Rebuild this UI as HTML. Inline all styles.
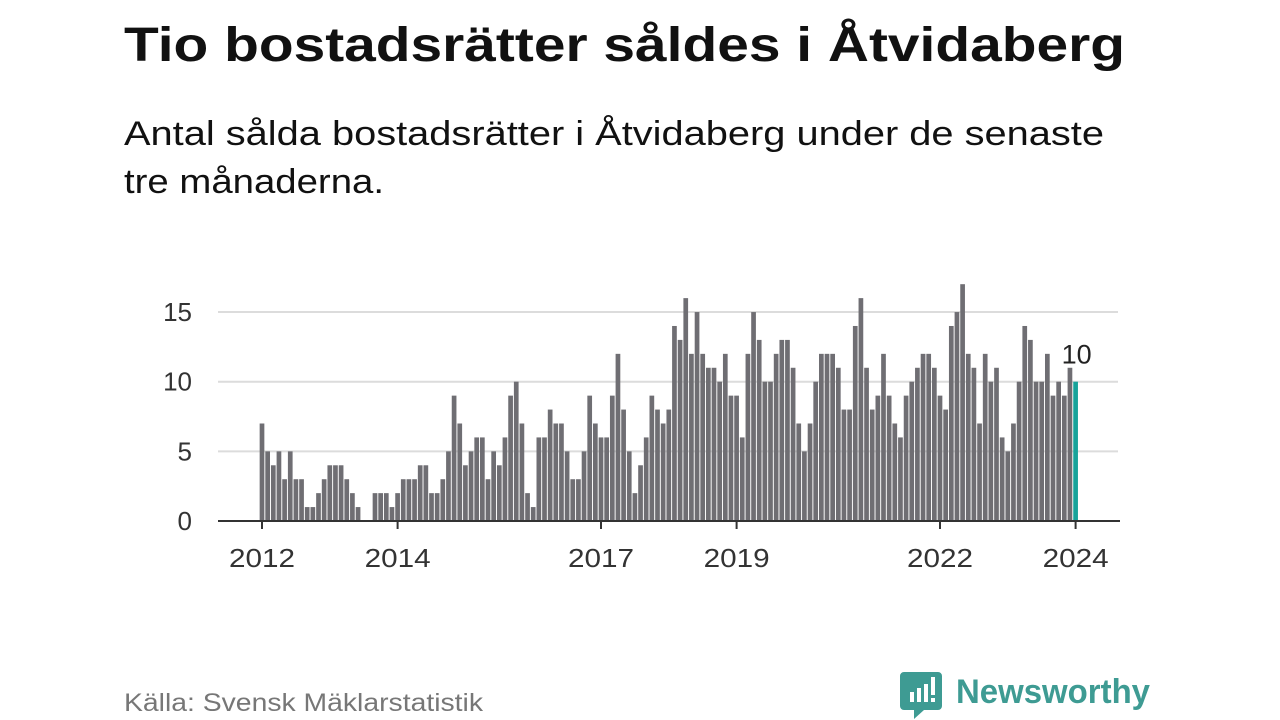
<!DOCTYPE html>
<html><head><meta charset="utf-8"><style>
body{margin:0;background:#fff;}
svg{display:block;font-family:"Liberation Sans",sans-serif;}
</style></head><body>
<svg id="chart" width="1280" height="720" viewBox="0 0 1280 720">
<text x="124" y="61" font-size="48" font-weight="bold" fill="#111" textLength="1001" lengthAdjust="spacingAndGlyphs">Tio bostadsrätter såldes i Åtvidaberg</text>
<text x="124" y="145" font-size="34" fill="#111" textLength="980" lengthAdjust="spacingAndGlyphs">Antal sålda bostadsrätter i Åtvidaberg under de senaste</text>
<text x="124" y="193" font-size="34" fill="#111" textLength="260" lengthAdjust="spacingAndGlyphs">tre månaderna.</text>
<g id="grid"></g>
<g id="bars"></g>
<g id="axes"></g>
<text x="124" y="711" font-size="25" fill="#777" textLength="359" lengthAdjust="spacingAndGlyphs">Källa: Svensk Mäklarstatistik</text>
<g>
<path d="M904 672 h34 a4 4 0 0 1 4 4 v30 a4 4 0 0 1 -4 4 h-14 l-10 9 v-9 h-10 a4 4 0 0 1 -4 -4 v-30 a4 4 0 0 1 4 -4z" fill="#3e9b93"/>
<rect x="910" y="692" width="4" height="10" fill="#fff"/><rect x="917" y="688" width="4" height="14" fill="#fff"/><rect x="924" y="684" width="4" height="18" fill="#fff"/><rect x="931" y="677" width="4" height="18" fill="#fff"/><rect x="931" y="698" width="4" height="4" fill="#fff"/>
<text x="956" y="703" font-size="34" font-weight="bold" fill="#3e9b93" textLength="194" lengthAdjust="spacingAndGlyphs">Newsworthy</text>
</g>
</svg>
<script>
const values = [7,5,4,5,3,5,3,3,1,1,2,3,4,4,4,3,2,1,0,0,2,2,2,1,2,3,3,3,4,4,2,2,3,5,9,7,4,5,6,6,3,5,4,6,9,10,7,2,1,6,6,8,7,7,5,3,3,5,9,7,6,6,9,12,8,5,2,4,6,9,8,7,8,14,13,16,12,15,12,11,11,10,12,9,9,6,12,15,13,10,10,12,13,13,11,7,5,7,10,12,12,12,11,8,8,14,16,11,8,9,12,9,7,6,9,10,11,12,12,11,9,8,14,15,17,12,11,7,12,10,11,6,5,7,10,14,13,10,10,12,9,10,9,11,10];
const startYear = 2012;
const xTickYears = [2012,2014,2017,2019,2022,2024];
const yTicks = [0,5,10,15];
const NS='http://www.w3.org/2000/svg';
const x0=262, step=5.65, y0=521, unit=13.93, bw=4.7;
const xScale = i => x0 + i*step;
const yScale = v => y0 - v*unit;
function mk(tag, attrs, parent){const e=document.createElementNS(NS,tag);for(const k in attrs)e.setAttribute(k,attrs[k]);parent.appendChild(e);return e;}
const grid=document.getElementById('grid'), bars=document.getElementById('bars'), axes=document.getElementById('axes');
yTicks.forEach(t=>{
  if(t>0){const l=mk('line',{x1:218,x2:1118,y1:yScale(t),y2:yScale(t),stroke:'#dcdcdc','stroke-width':2},grid);
  
  }
  const tx=mk('text',{x:192,y:yScale(t)+9,'font-size':26,fill:'#333','text-anchor':'end'},axes);
  tx.textContent=t;
  
  
});
values.forEach((v,i)=>{
  const last=i===values.length-1;
  const r=mk('rect',{x:xScale(i)-bw/2,y:yScale(v),width:bw,height:v*unit,fill:last?'#17a39a':'#6f6e73'},bars);
  
  
});
const lastI=values.length-1;
const lab=mk('text',{x:xScale(lastI)+1,y:yScale(values[lastI])-18,'font-size':27,fill:'#222','text-anchor':'middle'},axes);
lab.textContent=values[lastI];


const ax=mk('line',{x1:218,x2:1120,y1:y0,y2:y0,stroke:'#333','stroke-width':2},axes);


xTickYears.forEach(yr=>{
  const xi=xScale((yr-startYear)*12);
  const tk=mk('line',{x1:xi,x2:xi,y1:y0,y2:y0+8,stroke:'#333','stroke-width':2},axes);
  
  
  const tx=mk('text',{x:xi,y:567,'font-size':26,fill:'#333','text-anchor':'middle',textLength:66,lengthAdjust:'spacingAndGlyphs'},axes);
  tx.textContent=yr;
  
  
});
</script>
</body></html>
